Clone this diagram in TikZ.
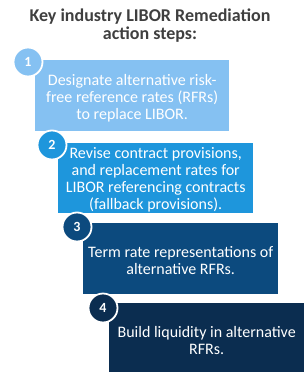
\documentclass[tikz,border=0pt]{standalone}
\usepackage{fontspec}
\setmainfont{Carlito}
\usetikzlibrary{positioning}

\definecolor{stepone}{HTML}{85C1F2}
\definecolor{steptwo}{HTML}{1E96DC}
\definecolor{stepthree}{HTML}{0C4A7E}
\definecolor{stepfour}{HTML}{0B2D50}
\definecolor{titlegray}{HTML}{3F3F3F}

\begin{document}
\begin{tikzpicture}[x=1pt, y=-1pt,
    stepbox/.style={anchor=north west, inner sep=0pt},
    steptext/.style={align=center, text=white, inner sep=0pt,
        font=\fontsize{16}{17}\selectfont},
    numdot/.style={circle, draw=white, line width=1.8pt, minimum size=29pt, inner sep=0pt,
        text=white, font=\fontsize{14}{14}\selectfont\bfseries}]
        \useasboundingbox (0,0) rectangle (304,372);
        \node[align=center, text=titlegray, font=\fontsize{18}{18}\selectfont\bfseries] (title) at (150,26)
            {Key industry LIBOR Remediation\\action steps:};
        % step boxes
        \node[stepbox, fill=stepone, minimum width=194pt, minimum height=71pt] (box1) at (35,60) {};
        \node[stepbox, fill=steptwo, minimum width=195pt, minimum height=70pt] (box2) at (58,143) {};
        \node[stepbox, fill=stepthree, minimum width=195pt, minimum height=71pt] (box3) at (83,223) {};
        \node[stepbox, fill=stepfour, minimum width=195pt, minimum height=69pt] (box4) at (109,303) {};
        \node[steptext] (text1) at ([yshift=-3pt]box1.center)
            {Designate alternative risk-\\free reference rates (RFRs)\\to replace LIBOR.};
        \node[steptext] (text2) at ([yshift=-1.5pt]box2.center)
            {Revise contract provisions,\\and replacement rates for\\LIBOR referencing contracts\\(fallback provisions).};
        \node[steptext] (text3) at ([yshift=-2pt]box3.center)
            {Term rate representations of\\alternative RFRs.};
        \node[steptext] (text4) at ([yshift=-3pt]box4.center)
            {Build liquidity in alternative\\RFRs.};
        % numbers
        \node[numdot, fill=stepone] (n1) at ([shift={(-7,2)}]box1.north west) {1};
        \node[numdot, fill=steptwo] (n2) at ([shift={(-6,2)}]box2.north west) {2};
        \node[numdot, fill=stepthree] (n3) at ([shift={(-6,4)}]box3.north west) {3};
        \node[numdot, fill=stepfour] (n4) at ([shift={(-6,5)}]box4.north west) {4};
    \end{tikzpicture}
\end{document}
